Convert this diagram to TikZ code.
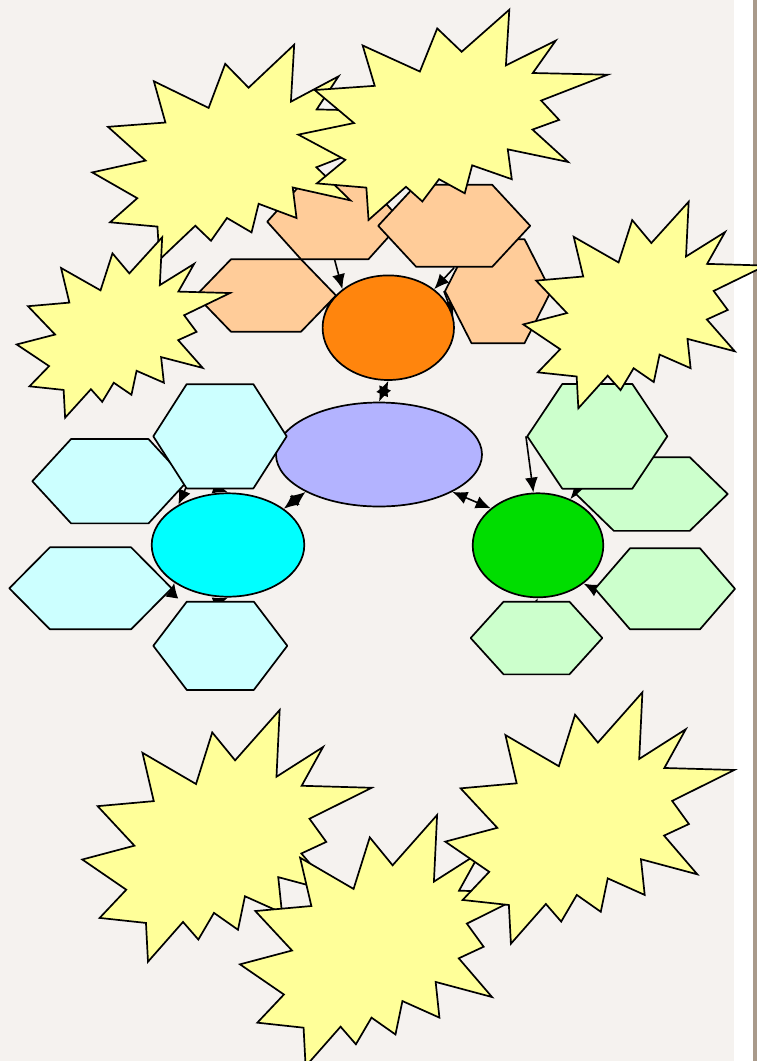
\documentclass[tikz,border=0pt]{standalone}
\usepackage{tikz}
\usetikzlibrary{shapes.geometric,arrows.meta}
\definecolor{paperbeige}{HTML}{F5F2EF}
\definecolor{edgebar}{HTML}{A99A8B}
\definecolor{burstyellow}{HTML}{FFFF99}
\definecolor{peach}{HTML}{FFCC99}
\definecolor{deeporange}{HTML}{FF850D}
\definecolor{lavender}{HTML}{B3B3FF}
\definecolor{aqua}{HTML}{00FFFF}
\definecolor{palecyan}{HTML}{CCFFFF}
\definecolor{palegreen}{HTML}{CCFFCC}
\definecolor{leafgreen}{HTML}{00DD00}
\pgfdeclarelayer{paper}
\pgfdeclarelayer{links}
\pgfsetlayers{paper,links,main}

\begin{document}
\begin{tikzpicture}[
				x=1pt,
				y=-1pt,
				line cap=round,
				line join=round,
				hexa/.style 2 args={regular polygon,regular polygon sides=6,
					minimum size=100pt,inner sep=0pt,xscale=#1/100,yscale=#2/86.6,
					transform shape,draw,line width=1.7pt},
				oval/.style 2 args={ellipse,minimum width=#1pt,minimum height=#2pt,
					inner sep=0pt,draw,line width=1.7pt},
				link/.style={line width=1.6pt,-{Latex[length=15pt,width=13pt]}},
				twolink/.style={line width=1.6pt,
					{Latex[length=15pt,width=13pt]}-{Latex[length=15pt,width=13pt]}},
				burst/.style={draw,fill=burstyellow,line width=1.7pt,line join=miter}
				]
				\useasboundingbox (0,0) rectangle (757,1061);
				\begin{pgfonlayer}{paper}
					\fill[paperbeige] (0,0) rectangle (734,1061);
					\fill[white] (734,0) rectangle (753,1061);
					\fill[edgebar] (753,0) rectangle (757,1061);
				\end{pgfonlayer}
				
				\node[oval={206}{104},fill=lavender] (eBl) at (379,454.5) {};
				
				\node[hexa={140}{72.4},fill=peach] (hD) at (266,295.5) {};
				\node[hexa={135}{75},fill=peach] (hA) at (334.7,221.7) {};
				\node[hexa={106}{104},fill=peach] (hC) at (498,291.2) {};
				\node[hexa={152}{82},fill=peach] (hB) at (454.2,225.8) {};
				
				\node[hexa={155}{84.3},fill=palecyan] (hF) at (109.8,481.2) {};
				\node[hexa={133.4}{104.3},fill=palecyan] (hE) at (220,436.3) {};
				\node[hexa={162.4}{82},fill=palecyan] (hG) at (90.5,588.3) {};
				\node[hexa={134}{88.3},fill=palecyan] (hH) at (220.3,645.8) {};
				
				\node[hexa={151.7}{73.7},fill=palegreen] (hJ) at (651.8,494) {};
				\node[hexa={140}{104.7},fill=palegreen] (hI) at (597.3,436.3) {};
				\node[hexa={140}{81},fill=palegreen] (hK) at (665,588.8) {};
				\node[hexa={131.7}{72.7},fill=palegreen] (hL) at (536.5,638) {};
				
				\node[oval={131.4}{104.6},fill=deeporange] (eOr) at (388.3,327.7) {};
				\node[oval={152.6}{103.4},fill=aqua] (eCy) at (228,545) {};
				\node[oval={130.6}{104},fill=leafgreen] (eGr) at (538,545.3) {};
				
				\begin{pgfonlayer}{links}
					\draw[link] (hA.south) -- (eOr.140);
					\draw[link] (hB.south) -- (eOr.40);
					\draw[link] (hC.west) -- (eOr.10);
					\draw[link] (hD.east) -- (eOr.165);
					\draw[twolink] (eOr.south) -- (eBl.north);
					\draw[twolink] (eBl.207) -- (eCy.33);
					\draw[twolink] (eBl.333) -- (eGr.142);
					
					\draw[link] (hE.south) -- (eCy.north);
					\draw[link] (hF.east) -- (eCy.141);
					\draw[link] (hG.east) -- (eCy.215);
					\draw[link] (hH.north) -- (eCy.south);
					
					\draw[link] (hI.west) -- (eGr.95);
					\draw[link] (hJ.west) -- (eGr.55);
					\draw[link] (hK.west) -- (eGr.-40);
					\draw[link] (hL.north) -- (eGr.south);
				\end{pgfonlayer}
				
				\foreach \bx/\by/\bw/\bh in {92.3/44.7/296/215, 298.3/9.7/309.4/210.3,
					16.7/237.3/213.3/180.4, 523.3/201.7/242.5/206.6,
					82.3/710/289.4/251.7, 240/815/289/251.4, 445.3/692.3/289/251.4}
				\draw[burst,shift={(\bx,\by)},xscale=\bw,yscale=\bh]
				(0.682,0) -- (0.671,0.265) -- (0.832,0.147) -- (0.758,0.301) -- (1,0.309)
				-- (0.785,0.432) -- (0.843,0.524) -- (0.757,0.570) -- (0.872,0.724)
				-- (0.677,0.664) -- (0.690,0.806) -- (0.562,0.740) -- (0.538,0.873)
				-- (0.455,0.806) -- (0.401,0.912) -- (0.348,0.842) -- (0.227,1)
				-- (0.220,0.846) -- (0.060,0.826) -- (0.152,0.714) -- (0,0.594)
				-- (0.180,0.539) -- (0.053,0.382) -- (0.247,0.362) -- (0.208,0.170)
				-- (0.393,0.294) -- (0.449,0.089) -- (0.528,0.200) -- cycle;
			\end{tikzpicture}
\end{document}
